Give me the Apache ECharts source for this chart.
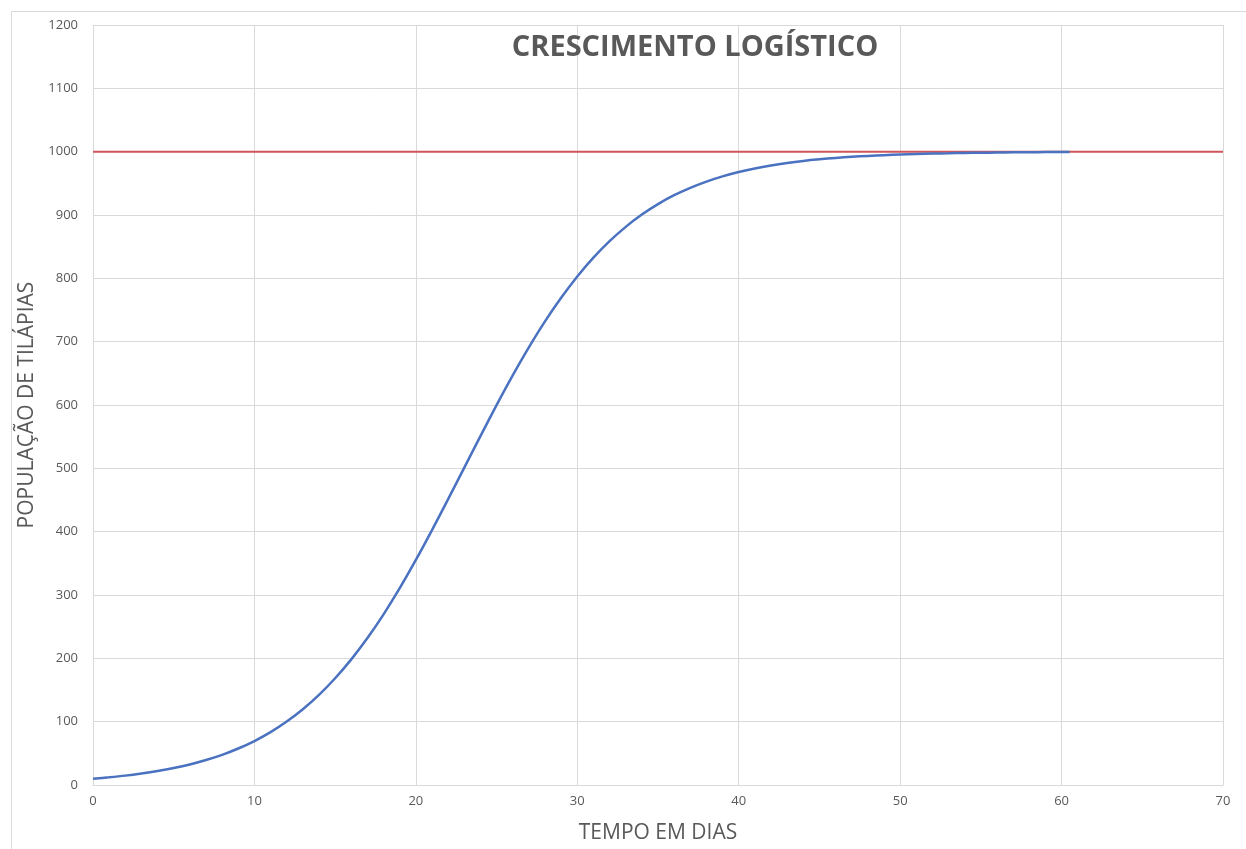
<!DOCTYPE html>
<html>
<head>
<meta charset="utf-8">
<script src="https://cdn.jsdelivr.net/npm/echarts@6/dist/echarts.min.js"></script>
<style>
html,body{margin:0;padding:0;background:#fff;}
#chart{width:1246px;height:849px;}
</style>
</head>
<body>
<div id="chart"></div>
<script>
// Data
const titleText = "CRESCIMENTO LOGÍSTICO";
const xAxisName = "TEMPO EM DIAS";
const yAxisName = "POPULAÇÃO DE TILÁPIAS";
const days = [0,1,2,3,4,5,6,7,8,9,10,11,12,13,14,15,16,17,18,19,20,21,22,23,24,25,26,27,28,29,30,31,32,33,34,35,36,37,38,39,40,41,42,43,44,45,46,47,48,49,50,51,52,53,54,55,56,57,58,59,60,60.5];
const population = [10,12.2,14.8,18.1,22,26.7,32.4,39.4,47.6,57.6,69.4,83.5,100.2,119.7,142.4,168.6,198.4,232,269.5,310.7,355.3,402.4,451.3,501.2,550.9,599.9,646.8,691,732,769.2,802.9,832.7,858.7,881.3,900.7,917.2,931.2,942.9,952.8,961,967.8,973.5,978.2,982.1,985.3,987.9,990.1,991.9,993.3,994.5,995.5,996.3,997,997.5,998,998.3,998.6,998.9,999.1,999.3,999.4,999.5];
const capacityX = [0,70];
const capacity = [1000,1000];

const popData = days.map((d,i)=>[d,population[i]]);
const capData = capacityX.map((d,i)=>[d,capacity[i]]);

const chart = echarts.init(document.getElementById('chart'), null, {renderer:'canvas'});
const txt = '#595959';
const font = 'Open Sans';
chart.setOption({
  animation:false,
  backgroundColor:'#fff',
  graphic:[{
    type:'rect', left:9, top:9, silent:true,
    shape:{width:1250,height:860},
    style:{fill:'none',stroke:'#d9d9d9',lineWidth:1}
  }],
  title:{
    text:titleText, left:690, textAlign:'center', top:28,
    textStyle:{fontFamily:font,fontWeight:'bold',fontSize:29,color:txt}
  },
  grid:{left:93,right:23,top:25,bottom:62},
  xAxis:{
    type:'value', min:0, max:70, interval:10,
    name:xAxisName, nameLocation:'middle', nameGap:38,
    nameTextStyle:{fontFamily:font,fontSize:21,color:txt},
    axisLine:{show:true,lineStyle:{color:'#d9d9d9'}},
    axisTick:{show:false},
    axisLabel:{fontFamily:font,fontSize:13,color:txt,margin:10},
    splitLine:{show:true,lineStyle:{color:'#d9d9d9'}}
  },
  yAxis:{
    type:'value', min:0, max:1200, interval:100,
    name:yAxisName, nameLocation:'middle', nameGap:54,
    nameTextStyle:{fontFamily:font,fontSize:21,color:txt},
    axisLine:{show:false},
    axisTick:{show:false},
    axisLabel:{fontFamily:font,fontSize:13,color:txt,margin:15,formatter:v=>String(v)},
    splitLine:{show:true,lineStyle:{color:'#d9d9d9'}}
  },
  series:[
    {type:'line',data:capData,symbol:'none',lineStyle:{color:'#d1545a',width:2}},
    {type:'line',data:popData,symbol:'none',smooth:0.3,lineStyle:{color:'#4a72c0',width:2.5}}
  ]
});
</script>
</body>
</html>
